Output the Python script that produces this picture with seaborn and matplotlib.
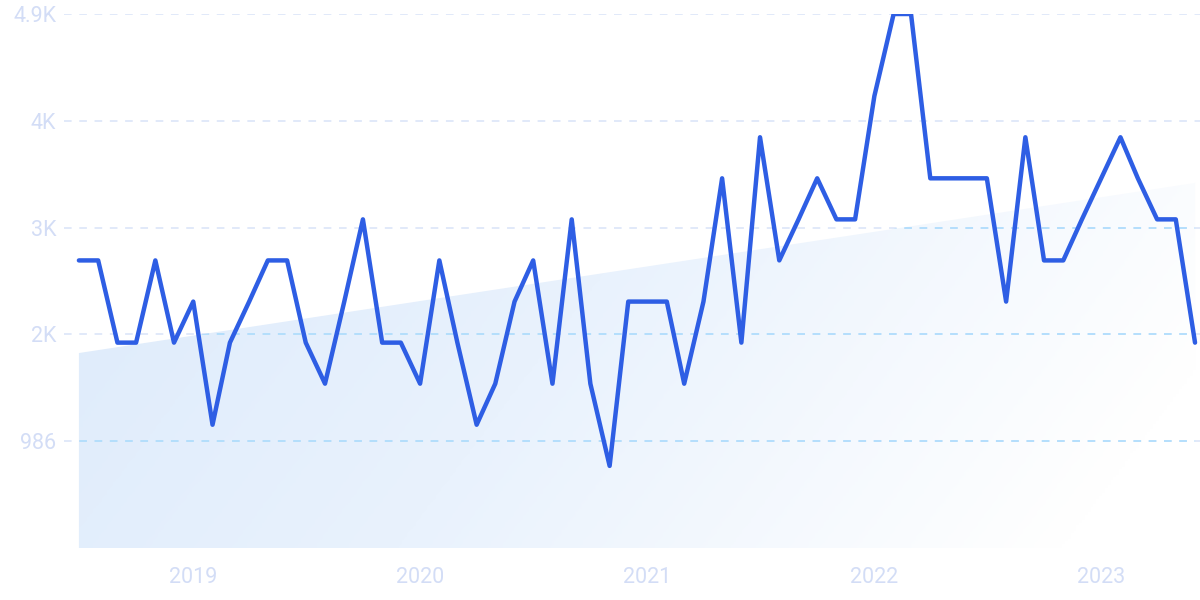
import numpy as np
import pandas as pd
import matplotlib
matplotlib.use("Agg")
import matplotlib.pyplot as plt
import matplotlib.dates as mdates
from matplotlib.colors import LinearSegmentedColormap
import seaborn as sns

# ---- data ----
start_month = "2018-07-01"
values = [2655, 2655, 1896, 1896, 2655, 1896, 2275, 1138, 1896, 2275,
          2655, 2655, 1896, 1517, 2275, 3034, 1896, 1896, 1517, 2655,
          1896, 1138, 1517, 2275, 2655, 1517, 3034, 1517, 758, 2275,
          2275, 2275, 1517, 2275, 3413, 1896, 3792, 2655, 3034, 3413,
          3034, 3034, 4172, 4930, 4930, 3413, 3413, 3413, 3413, 2275,
          3792, 2655, 2655, 3034, 3413, 3792, 3413, 3034, 3034, 1896]
trend_ends = [1800, 3370]
ytick_values = [986, 1972, 2958, 3944, 4930]
ytick_labels = ["986", "2K", "3K", "4K", "4.9K"]
xtick_years = ["2019", "2020", "2021", "2022", "2023"]

dates = pd.date_range(start_month, periods=len(values), freq="MS")
df = pd.DataFrame({"date": dates, "value": values})

sns.set_theme(style="white")
plt.rcParams["font.family"] = ["Roboto", "DejaVu Sans"]

fig = plt.figure(figsize=(12, 6), dpi=100)
ax = fig.add_axes([64 / 1200, 52 / 600, 1136 / 1200, 534 / 600])

label_color = "#d3ddf6"
line_color = "#2e5ee4"

left = dates[0] - pd.Timedelta(days=24)
right = dates[-1] + pd.Timedelta(days=8)
ax.set_xlim(left, right)
ax.set_ylim(0, 4930)

# trend fill with gradient
xnum = mdates.date2num(dates)
trend = np.interp(xnum, [xnum[0], xnum[-1]], trend_ends)
poly = ax.fill_between(dates, trend, 0, facecolor="none", edgecolor="none")
clip_path = poly.get_paths()[0]

nx, ny = 400, 200
u = np.linspace(0, 1, nx)[None, :]
v = np.linspace(1, 0, ny)[:, None]
t = np.clip(0.85 * u + 0.3 * (1 - v) - 0.05, 0, 1)
cmap = LinearSegmentedColormap.from_list("g", ["#dceafb", "#e9f2fd", "#ffffff"])
im = ax.imshow(t, cmap=cmap, vmin=0, vmax=1, aspect="auto",
               extent=[mdates.date2num(left), mdates.date2num(right), 0, 4930],
               origin="upper", zorder=1, interpolation="bilinear")
im.set_clip_path(clip_path, transform=ax.transData)

# gridlines
for yv in ytick_values:
    ax.axhline(yv, color="#d9e3f8", lw=1.1, ls=(0, (5, 5)), zorder=2)
    gl = ax.axhline(yv, color="#a9dcfd", lw=1.1, ls=(0, (5, 5)), zorder=2.1)
    gl.set_clip_path(clip_path, transform=ax.transData)

# main line
sns.lineplot(data=df, x="date", y="value", ax=ax, color=line_color, lw=3.2,
             zorder=3, solid_joinstyle="round", solid_capstyle="round")

ax.set_yticks(ytick_values)
ax.set_yticklabels(ytick_labels)
ax.set_xticks([pd.Timestamp(f"{y}-01-01") for y in xtick_years])
ax.set_xticklabels(xtick_years)
ax.tick_params(axis="y", length=0, pad=5.5, labelsize=15.5, labelcolor=label_color)
ax.tick_params(axis="x", length=0, pad=14, labelsize=15.5, labelcolor=label_color)
ax.set_xlabel("")
ax.set_ylabel("")
for s in ax.spines.values():
    s.set_visible(False)
ax.grid(False)

fig.savefig("out.png", dpi=100)
